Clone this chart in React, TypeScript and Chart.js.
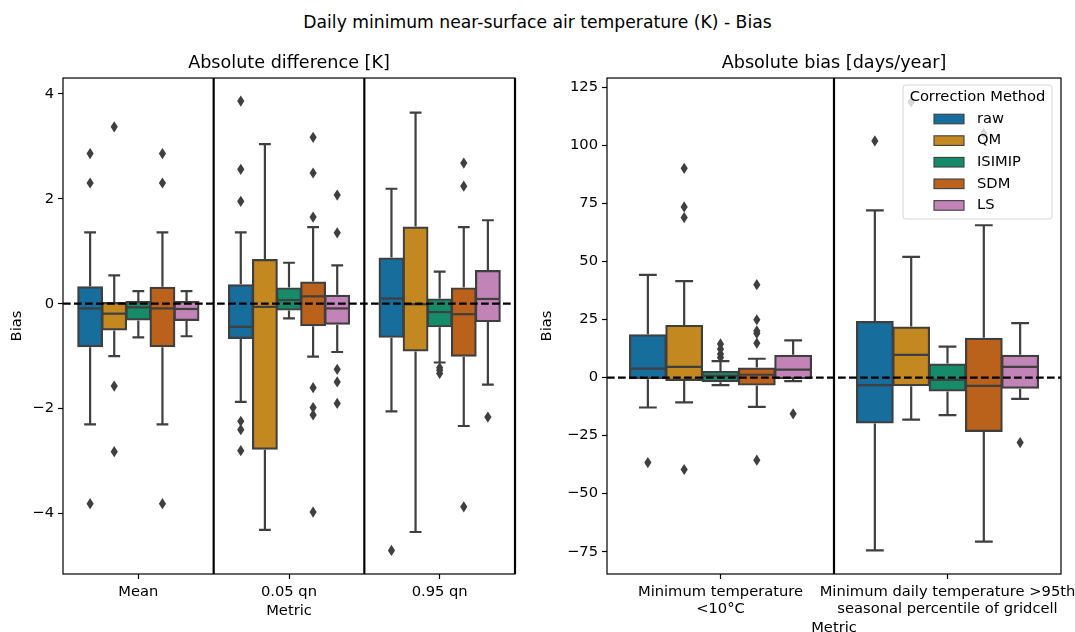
import React, { useEffect, useRef } from 'react';
import { Chart, registerables } from 'chart.js';

Chart.register(...registerables);

// ---------- shared ----------
const methods = ['raw', 'QM', 'ISIMIP', 'SDM', 'LS'];
const methodColors = ['#176d9c', '#c38820', '#168b6a', '#ba611b', '#c283b6'];

// ---------- left panel: Absolute difference [K] ----------
const leftCategories = ['Mean', '0.05 qn', '0.95 qn'];
const leftYTicks = [-4, -2, 0, 2, 4];
// rows: raw, QM, ISIMIP, SDM, LS ; columns: Mean, 0.05 qn, 0.95 qn
const leftLow = [
  [-2.30, -1.87, -2.05],
  [-1.00, -4.31, -4.35],
  [-0.64, -0.28, -1.12],
  [-2.30, -1.01, -2.33],
  [-0.62, -0.92, -1.54],
];
const leftQ1 = [
  [-0.81, -0.65, -0.63],
  [-0.49, -2.76, -0.89],
  [-0.30, -0.11, -0.43],
  [-0.81, -0.41, -0.99],
  [-0.31, -0.38, -0.33],
];
const leftMedian = [
  [-0.09, -0.44, 0.10],
  [-0.19, -0.06, -0.01],
  [-0.07, 0.07, -0.16],
  [-0.09, 0.14, -0.20],
  [-0.10, -0.09, 0.09],
];
const leftQ3 = [
  [0.31, 0.35, 0.86],
  [0.01, 0.83, 1.45],
  [0.03, 0.29, 0.08],
  [0.30, 0.40, 0.29],
  [0.03, 0.15, 0.62],
];
const leftHigh = [
  [1.36, 1.36, 2.19],
  [0.54, 3.04, 3.64],
  [0.24, 0.78, 0.61],
  [1.36, 1.46, 1.46],
  [0.24, 0.73, 1.59],
];
const leftOutliers = [
  [[2.86, 2.30, -3.81], [3.86, 2.56, 1.95, -2.24, -2.40, -2.80], [-4.70]],
  [[3.37, -1.57, -2.82], [], []],
  [[], [], [-1.22, -1.27, -1.33]],
  [[2.86, 2.30, -3.81], [3.17, 2.49, 1.65, -1.60, -1.98, -2.12, -3.97], [2.68, 2.24, -3.87]],
  [[], [2.07, 1.35, -1.25, -1.49, -1.90], [-2.16]],
];

// ---------- right panel: Absolute bias [days/year] ----------
const rightCategories = [
  ['Minimum temperature', '<10°C'],
  ['Minimum daily temperature >95th', 'seasonal percentile of gridcell'],
];
const rightYTicks = [-75, -50, -25, 0, 25, 50, 75, 100, 125];
const rightLow = [
  [-12.9, -74.4],
  [-10.7, -18.1],
  [-3.3, -16.2],
  [-12.6, -70.7],
  [-1.5, -9.2],
];
const rightQ1 = [
  [-0.3, -19.3],
  [-1.0, -3.3],
  [-1.5, -5.5],
  [-3.0, -23.0],
  [-0.2, -4.3],
];
const rightMedian = [
  [3.85, -3.3],
  [4.6, 9.8],
  [0.7, -1.0],
  [1.2, -3.6],
  [3.4, 4.6],
];
const rightQ3 = [
  [18.2, 23.9],
  [22.2, 21.5],
  [2.4, 5.6],
  [3.85, 16.7],
  [9.3, 9.3],
];
const rightHigh = [
  [44.2, 72.0],
  [41.5, 52.0],
  [7.1, 13.3],
  [8.1, 65.6],
  [16.0, 23.4],
];
const rightOutliers = [
  [[-36.6], [101.9]],
  [[90.1, 73.5, 68.9, -39.6], [118.7]],
  [[14.5, 12.3, 10.1, 8.6], []],
  [[40.0, 24.9, 20.1, 19.0, 14.8, -35.6], [105.2]],
  [[-15.6], [-28.0]],
];

// ---------- styling ----------
const FONT = 'DejaVu Sans';
const EDGE = '#3f3f3f';
const LW = 2.2;

type Stats = {
  low: number[][];
  med: number[][];
  high: number[][];
  out: number[][][];
};

function fmtTick(v: number) {
  return v < 0 ? '\u2212' + Math.abs(v) : String(v);
}

function diamond(ctx: CanvasRenderingContext2D, x: number, y: number) {
  ctx.beginPath();
  ctx.moveTo(x, y - 5.6);
  ctx.lineTo(x + 3.6, y);
  ctx.lineTo(x, y + 5.6);
  ctx.lineTo(x - 3.6, y);
  ctx.closePath();
  ctx.fill();
}

function makeBoxPlugin(stats: Stats, separators: number[], withLegend: boolean) {
  return {
    id: 'boxExtras',
    afterDatasetsDraw(chart: any) {
      const { ctx, chartArea, scales } = chart;
      const ys = scales.y;
      ctx.save();
      ctx.beginPath();
      ctx.rect(chartArea.left, chartArea.top, chartArea.width, chartArea.height);
      ctx.clip();
      ctx.strokeStyle = EDGE;
      ctx.fillStyle = EDGE;
      ctx.lineWidth = LW;
      chart.data.datasets.forEach((ds: any, i: number) => {
        const meta = chart.getDatasetMeta(i);
        meta.data.forEach((bar: any, j: number) => {
          const { x, width } = bar.getProps(['x', 'width'], true);
          const [q1, q3] = ds.data[j];
          const pQ1 = ys.getPixelForValue(q1);
          const pQ3 = ys.getPixelForValue(q3);
          const pLow = ys.getPixelForValue(stats.low[i][j]);
          const pHigh = ys.getPixelForValue(stats.high[i][j]);
          const pMed = ys.getPixelForValue(stats.med[i][j]);
          ctx.beginPath();
          ctx.moveTo(x, pQ1 + LW / 2);
          ctx.lineTo(x, pLow);
          ctx.moveTo(x, pQ3 - LW / 2);
          ctx.lineTo(x, pHigh);
          ctx.moveTo(x - width / 4, pLow);
          ctx.lineTo(x + width / 4, pLow);
          ctx.moveTo(x - width / 4, pHigh);
          ctx.lineTo(x + width / 4, pHigh);
          ctx.stroke();
          ctx.beginPath();
          ctx.moveTo(x - width / 2, pMed);
          ctx.lineTo(x + width / 2, pMed);
          ctx.stroke();
          stats.out[i][j].forEach((v) => diamond(ctx, x, ys.getPixelForValue(v)));
        });
      });
      ctx.restore();
    },
    afterDraw(chart: any) {
      const { ctx, chartArea, scales } = chart;
      const xs = scales.x;
      const ys = scales.y;
      ctx.save();
      // zero reference line
      ctx.strokeStyle = '#000';
      ctx.lineWidth = LW;
      ctx.setLineDash([7.7, 3.3]);
      const y0 = ys.getPixelForValue(0);
      ctx.beginPath();
      ctx.moveTo(chartArea.left, y0);
      ctx.lineTo(chartArea.right, y0);
      ctx.stroke();
      ctx.setLineDash([]);
      // frame
      ctx.lineWidth = 1.2;
      ctx.strokeRect(chartArea.left, chartArea.top, chartArea.width, chartArea.height);
      // separators
      ctx.lineWidth = LW;
      separators.forEach((s) => {
        const px = xs.getPixelForValue(s);
        ctx.beginPath();
        ctx.moveTo(px, chartArea.top);
        ctx.lineTo(px, chartArea.bottom);
        ctx.stroke();
      });
      // legend
      if (withLegend) {
        const w = 149;
        const h = 134;
        const lx = chartArea.right - 9 - w;
        const ly = chartArea.top + 7;
        ctx.beginPath();
        ctx.roundRect(lx, ly, w, h, 3);
        ctx.fillStyle = 'rgba(255,255,255,0.8)';
        ctx.fill();
        ctx.lineWidth = 1;
        ctx.strokeStyle = 'rgba(204,204,204,0.8)';
        ctx.stroke();
        ctx.font = `14.7px "${FONT}"`;
        ctx.fillStyle = '#000';
        ctx.textBaseline = 'middle';
        ctx.textAlign = 'center';
        ctx.fillText('Correction Method', lx + w / 2, ly + 12.5);
        ctx.textAlign = 'left';
        chart.data.datasets.forEach((ds: any, i: number) => {
          const cy = ly + 34 + i * 21.6;
          ctx.fillStyle = ds.backgroundColor;
          ctx.fillRect(lx + 31, cy - 4.8, 30, 9.6);
          ctx.strokeStyle = EDGE;
          ctx.lineWidth = 1.1;
          ctx.strokeRect(lx + 31, cy - 4.8, 30, 9.6);
          ctx.fillStyle = '#000';
          ctx.fillText(ds.label, lx + 74, cy);
        });
      }
      ctx.restore();
    },
  };
}

function buildDatasets(q1: number[][], q3: number[][]) {
  return methods.map((m, i) => ({
    label: m,
    data: q1[i].map((v, j) => [v, q3[i][j]]),
    backgroundColor: methodColors[i],
    borderColor: EDGE,
    borderWidth: LW,
    borderSkipped: false,
    inflateAmount: LW / 2,
    categoryPercentage: 0.8,
    barPercentage: 0.98,
  }));
}

function buildConfig(opts: {
  categories: any[];
  q1: number[][];
  q3: number[][];
  stats: Stats;
  yTicks: number[];
  yMin: number;
  yMax: number;
  title: string;
  yAxisWidth: number;
  padRight: number;
  xTitlePadBottom: number;
  separators: number[];
  legend: boolean;
}) {
  const tickFont = { family: FONT, size: 14.7 };
  return {
    type: 'bar' as const,
    data: {
      labels: opts.categories,
      datasets: buildDatasets(opts.q1, opts.q3),
    },
    options: {
      animation: false,
      responsive: false,
      devicePixelRatio: 1,
      events: [],
      layout: { padding: { left: 0, right: opts.padRight, top: 0, bottom: 0 } },
      plugins: {
        legend: { display: false },
        tooltip: { enabled: false },
        title: {
          display: true,
          fullSize: false,
          text: opts.title,
          color: '#000',
          font: { family: FONT, size: 17.6, weight: 'normal' as const, lineHeight: 1.2 },
          padding: { top: 52.4, bottom: 4.5 },
        },
      },
      scales: {
        x: {
          type: 'category' as const,
          offset: true,
          grid: {
            display: true,
            offset: false,
            drawOnChartArea: false,
            drawTicks: true,
            tickLength: 5,
            tickWidth: 1.2,
            color: '#000',
          },
          border: { display: false },
          ticks: {
            color: '#000',
            font: tickFont,
            padding: 4,
            maxRotation: 0,
            minRotation: 0,
            autoSkip: false,
          },
          title: {
            display: true,
            text: 'Metric',
            color: '#000',
            font: { family: FONT, size: 14.7, lineHeight: 1.2 },
            padding: { top: 0, bottom: opts.xTitlePadBottom },
          },
          afterFit: (scale: any) => {
            scale.height = 58;
            scale.paddingLeft = 0;
            scale.paddingRight = 0;
          },
        },
        y: {
          type: 'linear' as const,
          min: opts.yMin,
          max: opts.yMax,
          grid: {
            display: true,
            drawOnChartArea: false,
            drawTicks: true,
            tickLength: 5,
            tickWidth: 1.2,
            color: '#000',
          },
          border: { display: false },
          ticks: {
            color: '#000',
            font: tickFont,
            padding: 4,
            callback: (v: any) => fmtTick(Number(v)),
          },
          afterBuildTicks: (scale: any) => {
            scale.ticks = opts.yTicks.map((v) => ({ value: v }));
          },
          title: {
            display: true,
            text: 'Bias',
            color: '#000',
            font: { family: FONT, size: 14.7, lineHeight: 1.2 },
            padding: { top: 7.9, bottom: 0 },
          },
          afterFit: (scale: any) => {
            scale.width = opts.yAxisWidth;
          },
        },
      },
    },
    plugins: [makeBoxPlugin(opts.stats, opts.separators, opts.legend)],
  };
}

export default function App() {
  const leftRef = useRef<HTMLCanvasElement | null>(null);
  const rightRef = useRef<HTMLCanvasElement | null>(null);

  useEffect(() => {
    if (!leftRef.current || !rightRef.current) return;
    Chart.defaults.color = '#000';
    Chart.defaults.font.family = FONT;

    const left = new Chart(
      leftRef.current,
      buildConfig({
        categories: leftCategories,
        q1: leftQ1,
        q3: leftQ3,
        stats: { low: leftLow, med: leftMedian, high: leftHigh, out: leftOutliers },
        yTicks: leftYTicks,
        yMin: -5.15,
        yMax: 4.3,
        title: 'Absolute difference [K]',
        yAxisWidth: 63,
        padRight: 15,
        xTitlePadBottom: 12,
        separators: [0.5, 1.5, 2.5],
        legend: false,
      }) as any
    );
    const right = new Chart(
      rightRef.current,
      buildConfig({
        categories: rightCategories,
        q1: rightQ1,
        q3: rightQ3,
        stats: { low: rightLow, med: rightMedian, high: rightHigh, out: rightOutliers },
        yTicks: rightYTicks,
        yMin: -84.6,
        yMax: 129.0,
        title: 'Absolute bias [days/year]',
        yAxisWidth: 77,
        padRight: 14,
        xTitlePadBottom: -4.5,
        separators: [0.5],
        legend: true,
      }) as any
    );
    return () => {
      left.destroy();
      right.destroy();
    };
  }, []);

  return (
    <div
      style={{
        position: 'absolute',
        left: 0,
        top: 0,
        width: 1075,
        height: 632,
        background: '#fff',
        overflow: 'hidden',
      }}
    >
      <div
        style={{
          position: 'absolute',
          left: 0,
          top: 0,
          width: 1075,
          height: 44,
          lineHeight: '44px',
          textAlign: 'center',
          fontFamily: FONT,
          fontSize: '17.2px',
          color: '#000',
        }}
      >
        Daily minimum near-surface air temperature (K) - Bias
      </div>
      <canvas
        ref={leftRef}
        width={530}
        height={632}
        style={{ position: 'absolute', left: 0, top: 0 }}
      />
      <canvas
        ref={rightRef}
        width={545}
        height={632}
        style={{ position: 'absolute', left: 530, top: 0 }}
      />
    </div>
  );
}
